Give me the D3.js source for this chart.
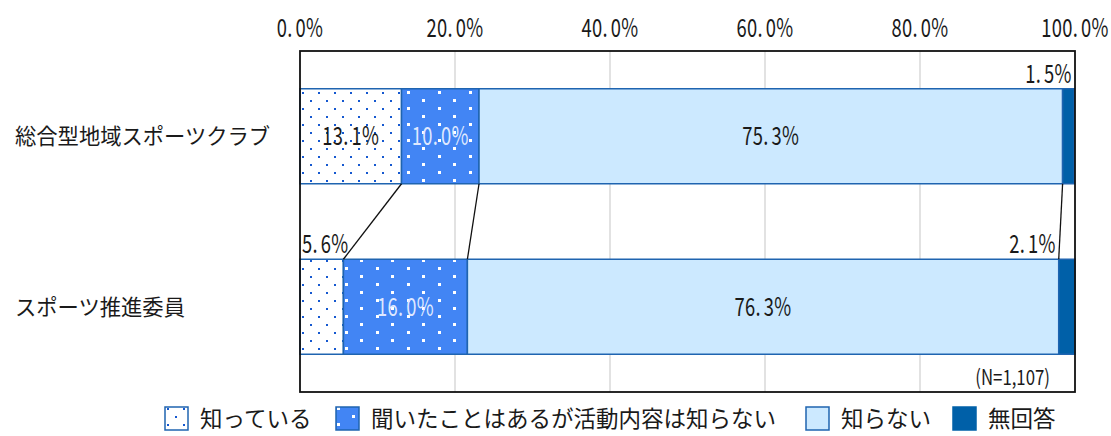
<!DOCTYPE html>
<html><head><meta charset="utf-8">
<script src="https://cdn.jsdelivr.net/npm/d3@7"></script>
<style>
body{margin:0;background:#fff;}
svg{display:block;}
text{font-family:"Noto Sans CJK JP","Noto Sans",sans-serif;}
</style></head>
<body>
<svg id="c" width="1111" height="436"></svg>
<script>
const categories = ["総合型地域スポーツクラブ", "スポーツ推進委員"];
const seriesNames = ["知っている", "聞いたことはあるが活動内容は知らない", "知らない", "無回答"];
const knowValues = [13.1, 5.6];
const heardValues = [10.0, 16.0];
const dontKnowValues = [75.3, 76.3];
const noAnswerValues = [1.5, 2.1];
const tickValues = [0, 20, 40, 60, 80, 100];
const tickLabels = ["0.0%", "20.0%", "40.0%", "60.0%", "80.0%", "100.0%"];
const noteText = "(N=1,107)";

(function () {
const svg = d3.select("#c");
const pl = 300, pr = 1075, pt = 51, pb = 392;
const x = d3.scaleLinear().domain([0, 100]).range([pl, pr]);
const y = d3.scaleBand().domain(categories).range([pt, pb]).padding(0);
const barH = 95;

const colors = ["url(#pKnow)", "url(#pHeard)", "#cce9ff", "#0060a8"];
const legendFill = ["url(#pKnowL)", "url(#pHeardL)", "#cce9ff", "#0060a8"];

const defs = svg.append("defs");
function dotPattern(id, off) {
  const p = defs.append("pattern").attr("id", id).attr("patternUnits", "userSpaceOnUse")
    .attr("width", 16).attr("height", 16).attr("x", off[0]).attr("y", off[1]);
  p.append("rect").attr("width", 16).attr("height", 16).attr("fill", "#fff");
  p.append("rect").attr("x", 2).attr("y", 3).attr("width", 2).attr("height", 2).attr("fill", "#1558d0");
  p.append("rect").attr("x", 10).attr("y", 11).attr("width", 2).attr("height", 2).attr("fill", "#1558d0");
}
function sqPattern(id, off) {
  const p = defs.append("pattern").attr("id", id).attr("patternUnits", "userSpaceOnUse")
    .attr("width", 31).attr("height", 16).attr("x", off[0]).attr("y", off[1]);
  p.append("rect").attr("width", 31).attr("height", 16).attr("fill", "#4285f4");
  p.append("rect").attr("x", 7).attr("y", 2).attr("width", 3).attr("height", 3).attr("fill", "#fff");
  p.append("rect").attr("x", 22).attr("y", 10).attr("width", 3).attr("height", 3).attr("fill", "#fff");
}
dotPattern("pKnow", [300, 89]);
sqPattern("pHeard", [400, 89]);
dotPattern("pKnowL", [165, 405]);
sqPattern("pHeardL", [330, 405]);

// numeric text with wider gap after the decimal point
function numText(sel, txt) {
  const parts = txt.split(".");
  sel.append("tspan").text(parts[0] + ".");
  sel.append("tspan").attr("dx", 4).text(parts[1]);
}

// gridlines
svg.append("g").selectAll("line").data(tickValues.slice(1, -1)).join("line")
  .attr("x1", d => x(d)).attr("x2", d => x(d)).attr("y1", pt).attr("y2", pb)
  .attr("stroke", "#d9d9d9").attr("stroke-width", 1.5);

// tick labels
svg.append("g").selectAll("text").data(tickValues).join("text")
  .attr("transform", d => `translate(${x(d)},37) scale(0.72,1)`)
  .attr("text-anchor", "middle").attr("font-size", 25.5).attr("fill", "#1a1a1a")
  .attr("letter-spacing", 0.4)
  .each(function (d, i) { numText(d3.select(this), tickLabels[i]); });

// stacked data
const rows = categories.map((c, i) => {
  const vals = [knowValues[i], heardValues[i], dontKnowValues[i], noAnswerValues[i]];
  let acc = 0;
  return { cat: c, segs: vals.map((v, k) => { const s = { k, v, x0: acc, x1: acc + v }; acc += v; return s; }) };
});

const barY = c => y(c) + (y.bandwidth() - barH) / 2;

const g = svg.append("g");
rows.forEach(r => {
  g.selectAll(null).data(r.segs).join("rect")
    .attr("x", d => x(d.x0)).attr("y", barY(r.cat))
    .attr("width", d => x(d.x1) - x(d.x0)).attr("height", barH)
    .attr("fill", d => colors[d.k])
    .attr("stroke", "#1f64b0").attr("stroke-width", 1.5);
});

// connector lines
[0, 1, 2].forEach(k => {
  svg.append("line")
    .attr("x1", x(rows[0].segs[k].x1)).attr("y1", barY(categories[0]) + barH)
    .attr("x2", x(rows[1].segs[k].x1)).attr("y2", barY(categories[1]))
    .attr("stroke", "#111").attr("stroke-width", 1.3);
});

// frame
svg.append("rect").attr("x", pl).attr("y", pt).attr("width", pr - pl).attr("height", pb - pt)
  .attr("fill", "none").attr("stroke", "#111").attr("stroke-width", 1.8);

// value labels
function vlabel(xp, yp, anchor, txt, color) {
  const t = svg.append("text").attr("transform", `translate(${xp},${yp}) scale(0.72,1)`)
    .attr("text-anchor", anchor).attr("font-size", 25.5).attr("fill", color)
    .attr("letter-spacing", 0.4);
  numText(t, txt);
}
rows.forEach((r, i) => {
  const cy = y(r.cat) + y.bandwidth() / 2 + 9;
  const by = barY(r.cat);
  r.segs.forEach(s => {
    const t = s.v.toFixed(1) + "%";
    const w = x(s.x1) - x(s.x0);
    if (s.k === 3) {
      vlabel(x(s.x0) + (i === 0 ? 9 : -3), by - 6, "end", t, "#1a1a1a");
    } else if (w < 50) {
      vlabel(x(s.x0) + 2, by - 6, "start", t, "#1a1a1a");
    } else {
      vlabel((x(s.x0) + x(s.x1)) / 2, cy, "middle", t, s.k === 1 ? "#dfe8ff" : "#1a1a1a");
    }
  });
});

// category labels
svg.append("g").selectAll("text").data(categories).join("text")
  .attr("x", 15).attr("y", d => y(d) + y.bandwidth() / 2 + 8)
  .attr("font-size", 21.3).attr("fill", "#1a1a1a").text(d => d);

// note
svg.append("text").attr("transform", `translate(1050,385) scale(0.8,1)`)
  .attr("text-anchor", "end").attr("font-size", 21).attr("fill", "#1a1a1a").text(noteText);

// legend
const legendX = [165, 336, 806, 953];
const lg = svg.append("g");
seriesNames.forEach((n, i) => {
  lg.append("rect").attr("x", legendX[i]).attr("y", 407).attr("width", 23).attr("height", 23)
    .attr("fill", legendFill[i]).attr("stroke", i === 3 ? "#0060a8" : "#1f64b0").attr("stroke-width", 1.5);
  lg.append("text").attr("x", legendX[i] + 35).attr("y", 427)
    .attr("font-size", 22.5).attr("fill", "#1a1a1a").text(n);
});
})();
</script>
</body></html>
